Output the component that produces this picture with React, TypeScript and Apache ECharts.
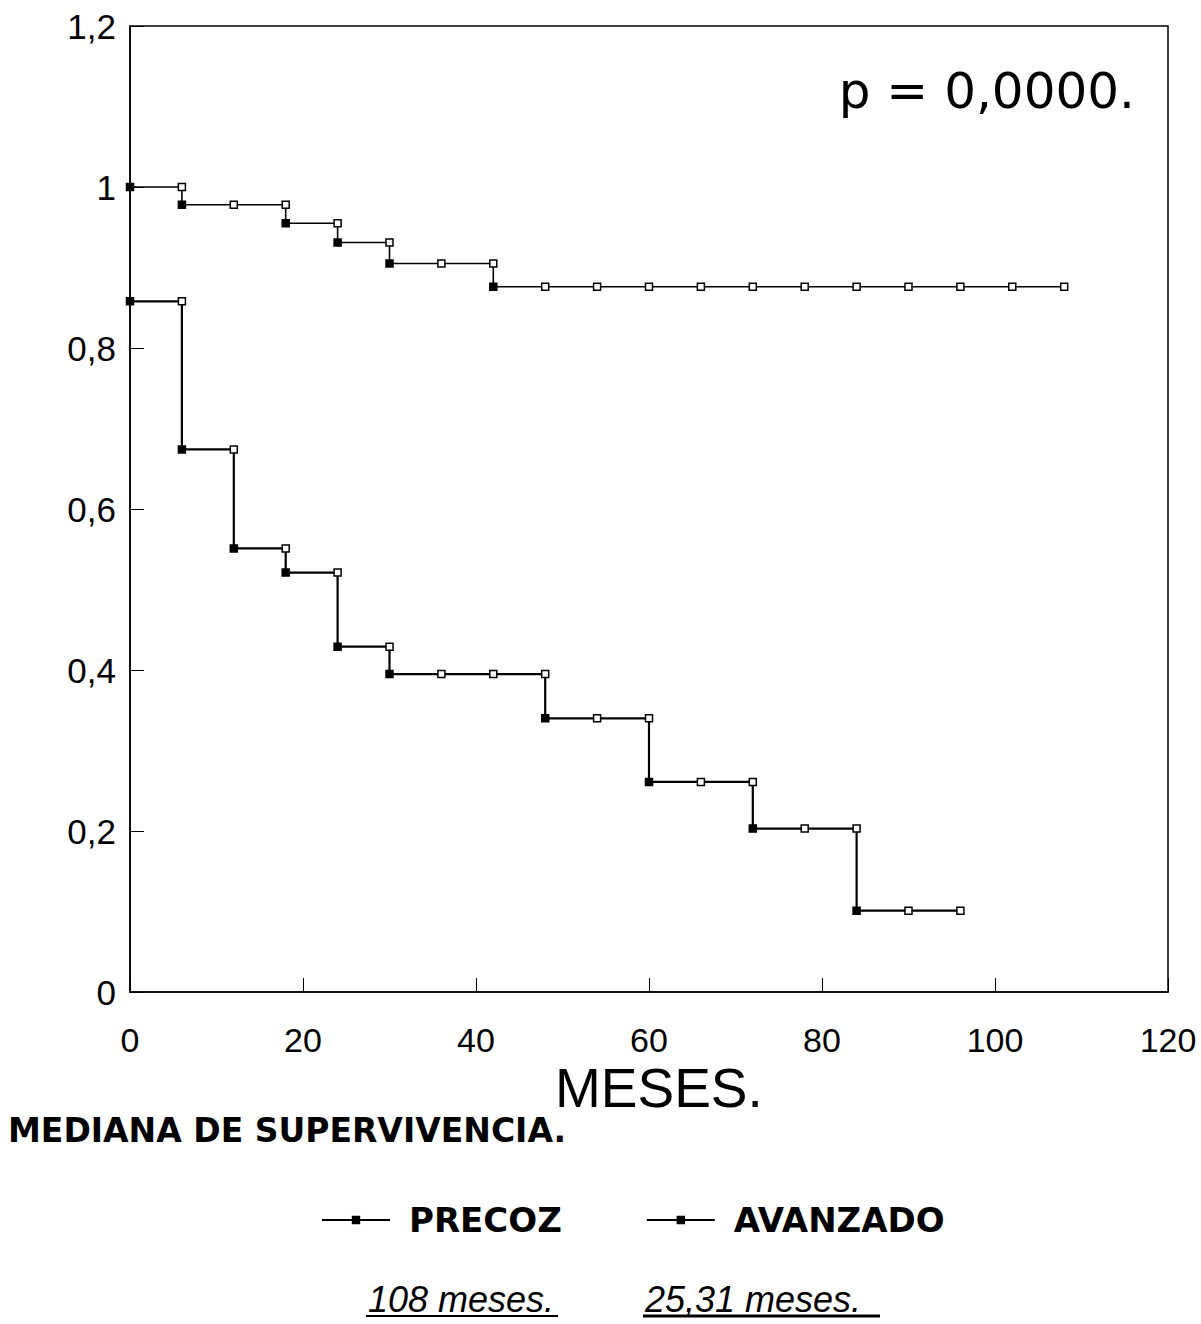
import React, { useEffect, useRef } from "react";
import * as echarts from "echarts";

// Kaplan-Meier survival estimates every 6 months
const precozMonths = [0, 6, 12, 18, 24, 30, 36, 42, 48, 54, 60, 66, 72, 78, 84, 90, 96, 102, 108];
const precozSurv = [1.0, 0.978, 0.978, 0.955, 0.931, 0.905, 0.905, 0.876, 0.876, 0.876, 0.876, 0.876, 0.876, 0.876, 0.876, 0.876, 0.876, 0.876, 0.876];

const avanzadoMonths = [0, 6, 12, 18, 24, 30, 36, 42, 48, 54, 60, 66, 72, 78, 84, 90, 96];
const avanzadoSurv = [0.858, 0.674, 0.551, 0.521, 0.429, 0.395, 0.395, 0.395, 0.34, 0.34, 0.261, 0.261, 0.203, 0.203, 0.101, 0.101, 0.101];

const seriesNames = ["PRECOZ", "AVANZADO"];
const xTicks = { min: 0, max: 120, interval: 20 };
const yTicks = { min: 0, max: 1.2, interval: 0.2 };
const pValueText = "p = 0,0000.";
const xTitle = "MESES.";
const medianTitle = "MEDIANA DE SUPERVIVENCIA.";
const medianValues = ["108 meses.", "25,31 meses."];

function buildSteps(months: number[], surv: number[]) {
  const pts: any[] = [];
  for (let i = 0; i < months.length; i++) {
    if (i > 0 && surv[i] !== surv[i - 1]) {
      pts.push({ value: [months[i], surv[i - 1]], itemStyle: { color: "#fff" } });
      pts.push({ value: [months[i], surv[i]], itemStyle: { color: "#000" } });
    } else {
      pts.push({ value: [months[i], surv[i]], itemStyle: { color: i === 0 ? "#000" : "#fff" } });
    }
  }
  return pts;
}

export default function App() {
  const ref = useRef<HTMLDivElement>(null);
  useEffect(() => {
    document.body.style.margin = "0";
    const chart = echarts.init(ref.current!, null, { renderer: "svg" });
    const font = "Liberation Sans";
    const lineSeries = (name: string, data: any[], width: number) => ({
      name,
      type: "line",
      data,
      symbol: "rect",
      symbolSize: 7,
      showSymbol: true,
      lineStyle: { color: "#000", width },
      itemStyle: { color: "#fff", borderColor: "#000", borderWidth: 1.5 },
      emphasis: { disabled: true },
    });
    chart.setOption({
      animation: false,
      backgroundColor: "#fff",
      grid: { left: 130, right: 33, top: 26, bottom: 332, show: true, borderColor: "#000", borderWidth: 1.5 },
      xAxis: {
        type: "value",
        min: xTicks.min,
        max: xTicks.max,
        interval: xTicks.interval,
        axisLine: { show: true, lineStyle: { color: "#000", width: 1.5 } },
        axisTick: { show: true, inside: true, length: 14, lineStyle: { color: "#000" } },
        splitLine: { show: false },
        axisLabel: { color: "#000", fontFamily: font, fontSize: 34, lineHeight: 28, margin: 34 },
      },
      yAxis: {
        type: "value",
        min: yTicks.min,
        max: yTicks.max,
        interval: yTicks.interval,
        axisLine: { show: true, lineStyle: { color: "#000", width: 1.5 } },
        axisTick: { show: true, inside: true, length: 14, lineStyle: { color: "#000" } },
        splitLine: { show: false },
        axisLabel: {
          color: "#000",
          fontFamily: font,
          fontSize: 35,
          margin: 14,
          formatter: (v: number) => String(+v.toFixed(1)).replace(".", ","),
        },
      },
      legend: {
        data: seriesNames.map((n) => ({ name: n, itemStyle: { color: "#000", borderColor: "#000" } })),
        top: 1198,
        left: 316,
        itemWidth: 68,
        itemHeight: 8,
        itemGap: 84,
        textStyle: { color: "#000", fontFamily: "DejaVu Sans", fontWeight: "bold", fontSize: 34, padding: [0, 0, 0, 14] },
        selectedMode: false,
      },
      series: [
        lineSeries(seriesNames[0], buildSteps(precozMonths, precozSurv), 1.6),
        lineSeries(seriesNames[1], buildSteps(avanzadoMonths, avanzadoSurv), 2.2),
      ],
      graphic: [
        {
          type: "text",
          right: 66,
          top: 66,
          style: { text: pValueText, fontFamily: "DejaVu Sans", fontSize: 50, fill: "#000" },
        },
        {
          type: "text",
          left: 555,
          top: 1060,
          style: { text: xTitle, fontFamily: font, fontSize: 55, lineHeight: 32, fill: "#000" },
        },
        {
          type: "text",
          left: 8,
          top: 1114,
          style: { text: medianTitle, fontFamily: "DejaVu Sans", fontWeight: "bold", fontSize: 33, fill: "#000" },
        },
        {
          type: "text",
          left: 368,
          top: 1281,
          style: { text: medianValues[0], fontFamily: font, fontStyle: "italic", fontSize: 36, lineHeight: 36, fill: "#000" },
        },
        {
          type: "text",
          left: 645,
          top: 1281,
          style: { text: medianValues[1], fontFamily: font, fontStyle: "italic", fontSize: 36, lineHeight: 36, fill: "#000" },
        },
        { type: "line", shape: { x1: 366, y1: 1316, x2: 558, y2: 1316 }, style: { stroke: "#000", lineWidth: 2 } },
        { type: "line", shape: { x1: 643, y1: 1316, x2: 880, y2: 1316 }, style: { stroke: "#000", lineWidth: 3 } },
      ],
    });
    return () => chart.dispose();
  }, []);
  return <div ref={ref} style={{ width: 1201, height: 1324 }} />;
}
